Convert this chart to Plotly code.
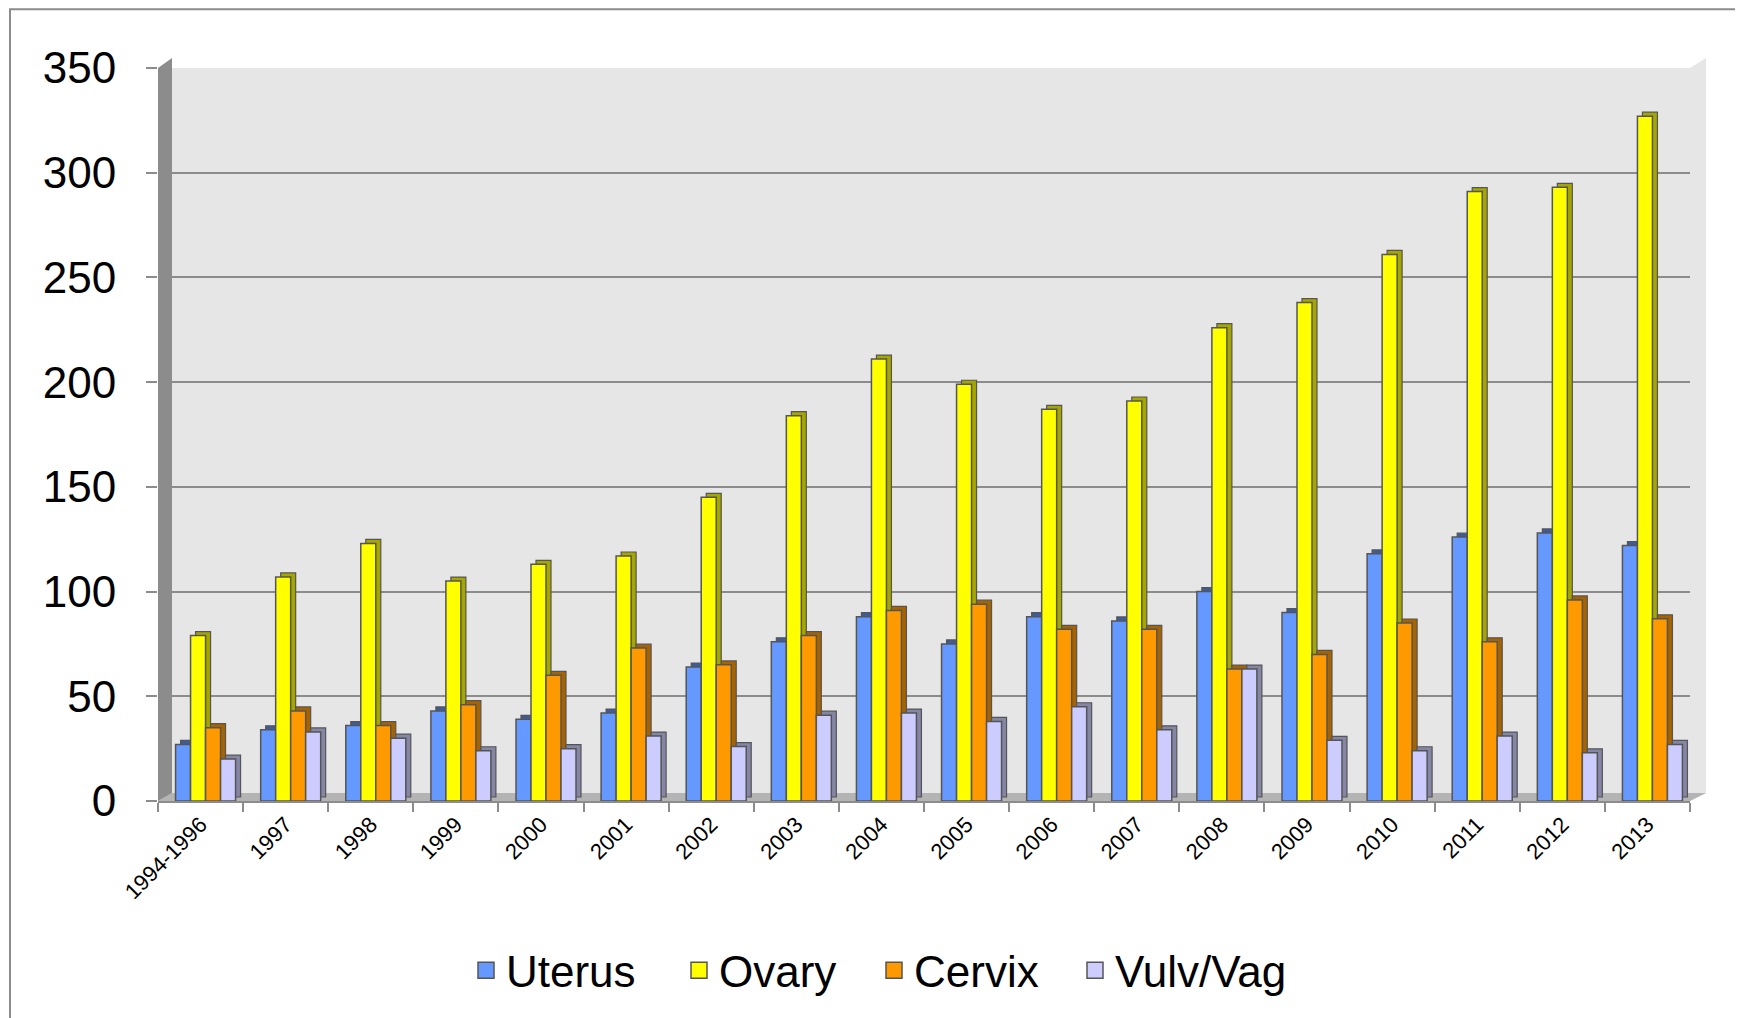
import plotly.graph_objects as go

categories = ["1994-1996", "1997", "1998", "1999", "2000", "2001", "2002", "2003", "2004",
              "2005", "2006", "2007", "2008", "2009", "2010", "2011", "2012", "2013"]
uterus = [27, 34, 36, 43, 39, 42, 64, 76, 88, 75, 88, 86, 100, 90, 118, 126, 128, 122]
ovary = [79, 107, 123, 105, 113, 117, 145, 184, 211, 199, 187, 191, 226, 238, 261, 291, 293, 327]
cervix = [35, 43, 36, 46, 60, 73, 65, 79, 91, 94, 82, 82, 63, 70, 85, 76, 96, 87]
vulv_vag = [20, 33, 30, 24, 25, 31, 26, 41, 42, 38, 45, 34, 63, 29, 24, 31, 23, 27]
y_ticks = [0, 50, 100, 150, 200, 250, 300, 350]

# name, values, front colour, side (shaded) colour
series = [
    ("Uterus", uterus, "#6699FF", "#3D5C99"),
    ("Ovary", ovary, "#FFFF00", "#A6A600"),
    ("Cervix", cervix, "#FF9900", "#A66300"),
    ("Vulv/Vag", vulv_vag, "#CCCCFF", "#8585A6"),
]

OFF = 8  # page body margin of the browser
W, H = 1743 - OFF, 1018 - OFF
# target positions in screenshot pixels
L, R, T, B = 158, 1690, 68, 803
L2, R2, T2, B2 = L - OFF, R - OFF, T - OFF, B - OFF

pw = R - L
ph = B - T
def px(x):
    return (x - L) / pw
def py(y):
    return (B - y) / ph
def path(pts):
    return "M " + " L ".join(f"{px(a):.5f},{py(b):.5f}" for a, b in pts) + " Z"

ncat = len(categories)
cat_px = pw / ncat           # pixels per category
unit_px = ph / 350.0         # pixels per value unit
bar_w = 15 / cat_px          # bar width in category units
depth_x = 5 / cat_px         # 3D depth, horizontal
depth_y = 4 / unit_px        # 3D depth, vertical (value units)
start = -2 * bar_w + 5 / cat_px

fig = go.Figure()
# shaded side/top faces
for i, (name, vals, col, side) in enumerate(series):
    fig.add_trace(go.Bar(
        x=categories, y=vals, base=[depth_y] * ncat, name=name, showlegend=False,
        offset=start + i * bar_w + depth_x, width=bar_w, hoverinfo="skip",
        marker=dict(color=side, line=dict(color="#555555", width=1.2)),
    ))
# front faces
for i, (name, vals, col, side) in enumerate(series):
    fig.add_trace(go.Bar(
        x=categories, y=vals, name=name, showlegend=False,
        offset=start + i * bar_w, width=bar_w,
        marker=dict(color=col, line=dict(color="#555555", width=1.5)),
    ))

legend_names = ["legend", "legend2", "legend3", "legend4"]
legend_x = [466, 679, 874, 1075]
for (name, vals, col, side), lg in zip(series, legend_names):
    fig.add_trace(go.Scatter(
        x=[None], y=[None], mode="markers", name=name, legend=lg,
        marker=dict(symbol="square", size=16, color=col, line=dict(color="#555555", width=1.5)),
    ))

legend_style = dict(orientation="h", xanchor="left", y=py(973), yanchor="middle",
                    font=dict(size=44), itemwidth=30, itemsizing="trace",
                    bgcolor="rgba(0,0,0,0)")

shapes = [
    # outer chart border (right/bottom sides beyond the picture)
    dict(type="rect", xref="paper", yref="paper", x0=px(10), x1=px(1760), y0=py(9), y1=py(1040),
         line=dict(color="#8C8C8C", width=2), fillcolor="rgba(0,0,0,0)", layer="below"),
    # back wall extension on the right
    dict(type="path", xref="paper", yref="paper",
         path=path([(1690, 803), (1690, 68), (1706, 58), (1706, 795)]),
         line=dict(width=0), fillcolor="#E6E6E6", layer="below"),
    # floor
    dict(type="path", xref="paper", yref="paper",
         path=path([(158, 803), (172, 795), (1706, 795), (1690, 803)]),
         line=dict(width=0), fillcolor="#B4B4B4", layer="below"),
    # left wall (3D look)
    dict(type="path", xref="paper", yref="paper",
         path=path([(158, 803), (158, 68), (172, 58), (172, 795)]),
         line=dict(width=0), fillcolor="#8C8C8C", layer="above"),
]

layout_kwargs = {lg: dict(legend_style, x=px(xv)) for lg, xv in zip(legend_names, legend_x)}

fig.update_layout(
    width=W, height=H,
    margin=dict(l=L2, r=W - R2, t=T2, b=H - B2, pad=0),
    paper_bgcolor="white",
    plot_bgcolor="#E6E6E6",
    barmode="overlay",
    font=dict(family="Liberation Sans, Arial, sans-serif", color="black"),
    showlegend=True,
    shapes=shapes,
    xaxis=dict(
        type="category", tickangle=-45, tickfont=dict(size=22),
        ticks="outside", ticklen=9, tickcolor="#8C8C8C", tickwidth=2,
        tickson="boundaries", showline=True, linecolor="#8C8C8C", linewidth=2,
        showgrid=False,
    ),
    yaxis=dict(
        range=[0, 350], tickvals=y_ticks, tickfont=dict(size=44),
        ticks="outside", ticklen=11, tickcolor="#8C8C8C", tickwidth=2,
        ticklabelstandoff=21,
        showgrid=True, gridcolor="#8C8C8C", gridwidth=2,
        showline=False, zeroline=False,
    ),
    **layout_kwargs,
)

fig.write_html("out.html")
